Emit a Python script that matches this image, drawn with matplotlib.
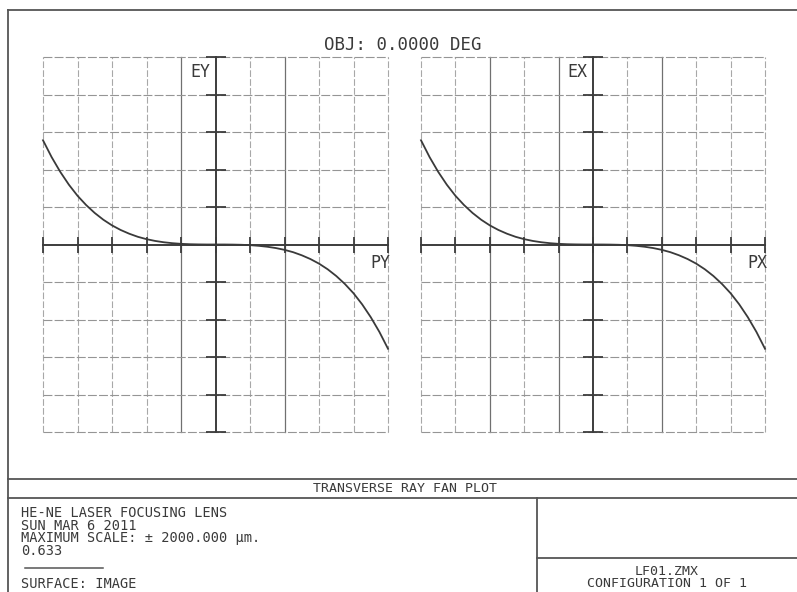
import numpy as np
import matplotlib
matplotlib.use("Agg")
import matplotlib.pyplot as plt

# ---------------- data ----------------
pupil = [-1.00, -0.95, -0.90, -0.85, -0.80, -0.75, -0.70, -0.65, -0.60, -0.55,
         -0.50, -0.45, -0.40, -0.35, -0.30, -0.25, -0.20, -0.15, -0.10, -0.05,
         0.00, 0.05, 0.10, 0.15, 0.20, 0.25, 0.30, 0.35, 0.40, 0.45,
         0.50, 0.55, 0.60, 0.65, 0.70, 0.75, 0.80, 0.85, 0.90, 0.95, 1.00]
# transverse ray error (micrometres)
ey_tan = [1112, 932, 775, 638, 520, 421, 336, 264, 204, 155,
          115, 82, 57, 38, 24, 14, 7, 3, 1, 0,
          0, 0, -1, -3, -7, -14, -24, -38, -57, -82,
          -115, -155, -204, -264, -336, -421, -520, -638, -775, -932, -1112]
ex_sag = [1112, 932, 775, 638, 520, 421, 336, 264, 204, 155,
          115, 82, 57, 38, 24, 14, 7, 3, 1, 0,
          0, 0, -1, -3, -7, -14, -24, -38, -57, -82,
          -115, -155, -204, -264, -336, -421, -520, -638, -775, -932, -1112]
max_scale = 2000.0
pupil_ticks = [-1.0, -0.8, -0.6, -0.4, -0.2, 0.0, 0.2, 0.4, 0.6, 0.8, 1.0]
error_ticks = [-2000, -1600, -1200, -800, -400, 0, 400, 800, 1200, 1600, 2000]
dark_grid_left = [-0.2, 0.4]
dark_grid_right = [-0.6, -0.2, 0.4]

title_obj = "OBJ: 0.0000 DEG"
plot_title = "TRANSVERSE RAY FAN PLOT"
info_lines = ["HE-NE LASER FOCUSING LENS", "SUN MAR 6 2011",
              "MAXIMUM SCALE: \u00b1 2000.000 \u00b5m.", "0.633"]
surface_text = "SURFACE: IMAGE"
file_lines = ["LF01.ZMX", "CONFIGURATION 1 OF 1"]

# ---------------- style ----------------
plt.rcParams['font.family'] = ['DejaVu Sans Mono', 'DejaVu Sans']
W, H = 797, 592
TXT = '#3a3a3a'
AXC = '#3c3c3c'
FRAME = '#555555'

fig = plt.figure(figsize=(W / 100, H / 100), dpi=100)
fig.patch.set_facecolor('white')

# background pixel-coordinate axes for frame and text
bg = fig.add_axes([0, 0, 1, 1])
bg.set_xlim(0, W)
bg.set_ylim(H, 0)
bg.axis('off')

lw_f = 1.3
bg.plot([8, 8], [10, H], color=FRAME, lw=lw_f)
bg.plot([8, W], [10, 10], color=FRAME, lw=lw_f)
bg.plot([8, W], [479, 479], color=FRAME, lw=lw_f)
bg.plot([8, W], [498, 498], color=FRAME, lw=lw_f)
bg.plot([537, 537], [498, H], color=FRAME, lw=lw_f)
bg.plot([537, W], [558, 558], color=FRAME, lw=lw_f)
bg.plot([25, 103], [568, 568], color=FRAME, lw=1.1)

bg.text(403, 45, title_obj, fontsize=12.5, color=TXT, ha='center', va='center')
bg.text(405, 489, plot_title, fontsize=9.5, color=TXT, ha='center', va='center')
bg.text(21, 506, "\n".join(info_lines), fontsize=9.8, color=TXT, ha='left',
        va='top', linespacing=0.87)
bg.text(21, 584, surface_text, fontsize=9.8, color=TXT, ha='left', va='center')
bg.text(667, 565, "\n".join(file_lines), fontsize=9.5, color=TXT, ha='center',
        va='top', multialignment='center', linespacing=0.87)


def fan(ax, xs, ys, dark_cols, ylab, xlab):
    ax.set_xlim(-1, 1)
    ax.set_ylim(-max_scale, max_scale)
    ax.axis('off')
    ax.patch.set_alpha(0)
    for x in pupil_ticks:
        if x == 0:
            continue
        if any(abs(x - d) < 1e-9 for d in dark_cols):
            ax.axvline(x, color='#707070', lw=0.9, clip_on=False)
        else:
            ax.axvline(x, color='#a8a8a8', lw=0.8, dashes=(6, 2), clip_on=False)
    for y in error_ticks:
        if y == 0:
            continue
        ax.axhline(y, color='#959595', lw=0.8, dashes=(8, 2), clip_on=False)
    ax.axhline(0, color=AXC, lw=1.4, clip_on=False)
    ax.axvline(0, color=AXC, lw=1.4, clip_on=False)
    ax.plot(pupil_ticks, [0] * len(pupil_ticks), ls='none', marker='|', ms=11,
            mew=1.3, color=AXC, clip_on=False)
    ax.plot([0] * len(error_ticks), error_ticks, ls='none', marker='_', ms=14,
            mew=1.3, color=AXC, clip_on=False)
    ax.plot(xs, ys, color='#3a3a3a', lw=1.3, clip_on=False)
    ax.text(-0.03, 1840, ylab, fontsize=12, color=TXT, ha='right', va='center')
    ax.text(0.955, -200, xlab, fontsize=12, color=TXT, ha='center', va='center')


axL = fig.add_axes([43 / W, 1 - 432 / H, 345 / W, 375 / H])
fan(axL, pupil, ey_tan, dark_grid_left, 'EY', 'PY')
axR = fig.add_axes([421 / W, 1 - 432 / H, 344 / W, 375 / H])
fan(axR, pupil, ex_sag, dark_grid_right, 'EX', 'PX')

fig.savefig('out.png', dpi=100, facecolor='white')
